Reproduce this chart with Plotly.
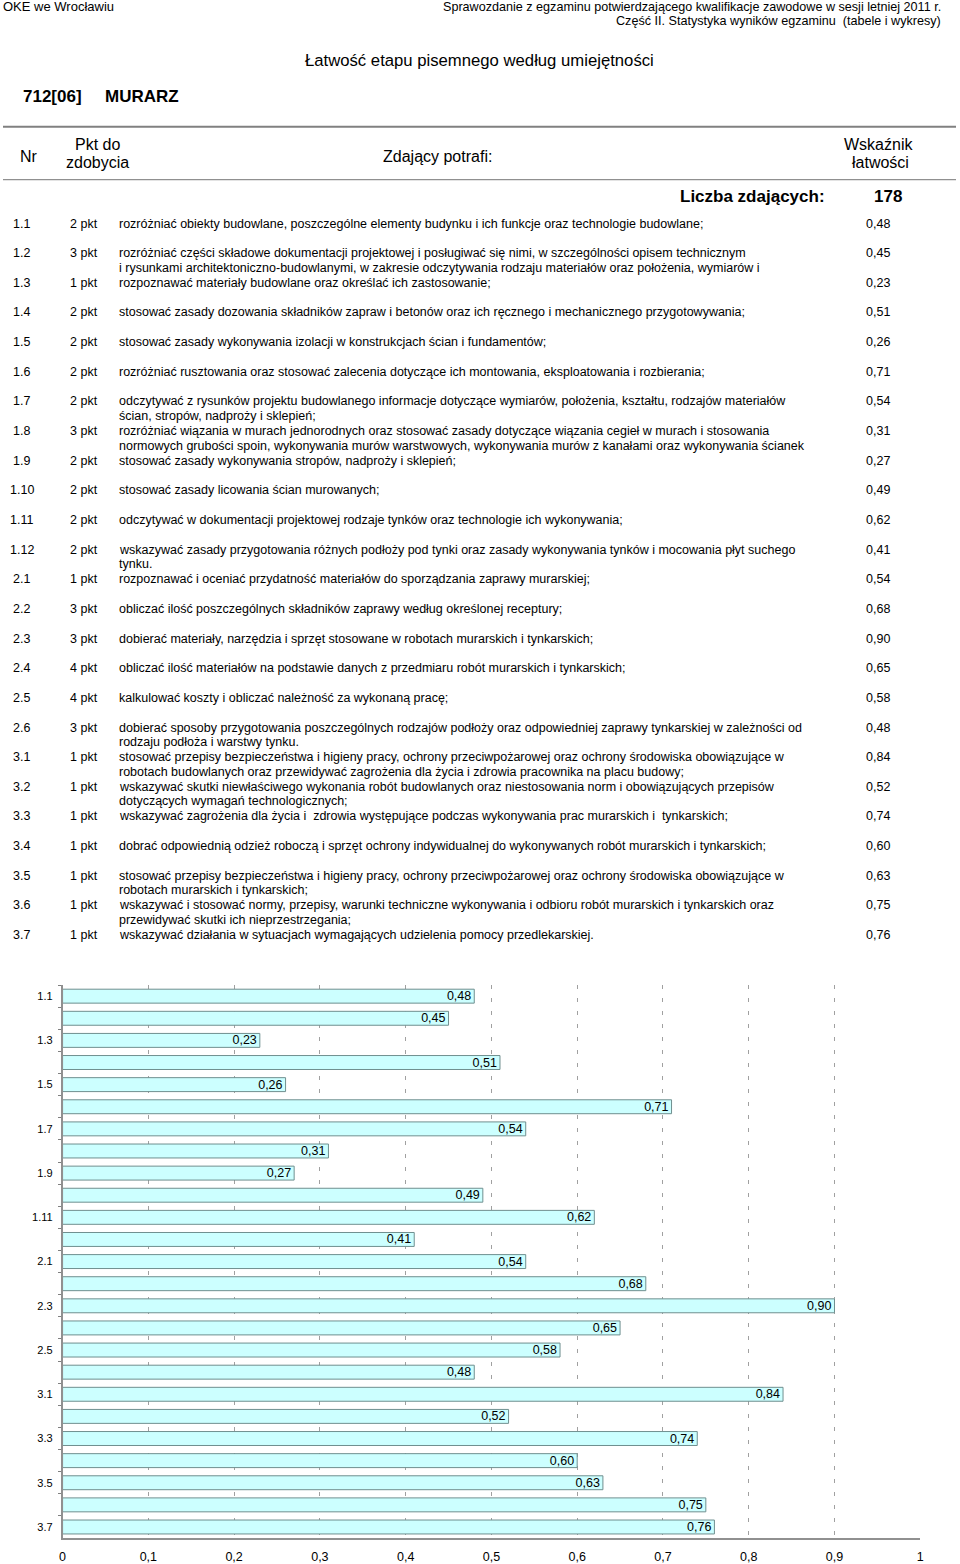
import plotly.graph_objects as go

W, H = 960, 1564

nr = ["1.1", "1.2", "1.3", "1.4", "1.5", "1.6", "1.7", "1.8", "1.9", "1.10", "1.11", "1.12",
      "2.1", "2.2", "2.3", "2.4", "2.5", "2.6",
      "3.1", "3.2", "3.3", "3.4", "3.5", "3.6", "3.7"]
pkt = [2, 3, 1, 2, 2, 2, 2, 3, 2, 2, 2, 2,
       1, 3, 3, 4, 4, 3,
       1, 1, 1, 1, 1, 1, 1]
latwosc = [0.48, 0.45, 0.23, 0.51, 0.26, 0.71, 0.54, 0.31, 0.27, 0.49, 0.62, 0.41,
           0.54, 0.68, 0.90, 0.65, 0.58, 0.48,
           0.84, 0.52, 0.74, 0.60, 0.63, 0.75, 0.76]
opis = [
    ["rozróżniać obiekty budowlane, poszczególne elementy budynku i ich funkcje oraz technologie budowlane;"],
    ["rozróżniać części składowe dokumentacji projektowej i posługiwać się nimi, w szczególności opisem technicznym",
     "i rysunkami architektoniczno-budowlanymi, w zakresie odczytywania rodzaju materiałów oraz położenia, wymiarów i"],
    ["rozpoznawać materiały budowlane oraz określać ich zastosowanie;"],
    ["stosować zasady dozowania składników zapraw i betonów oraz ich ręcznego i mechanicznego przygotowywania;"],
    ["stosować zasady wykonywania izolacji w konstrukcjach ścian i fundamentów;"],
    ["rozróżniać rusztowania oraz stosować zalecenia dotyczące ich montowania, eksploatowania i rozbierania;"],
    ["odczytywać z rysunków projektu budowlanego informacje dotyczące wymiarów, położenia, kształtu, rodzajów materiałów",
     "ścian, stropów, nadproży i sklepień;"],
    ["rozróżniać wiązania w murach jednorodnych oraz stosować zasady dotyczące wiązania cegieł w murach i stosowania",
     "normowych grubości spoin, wykonywania murów warstwowych, wykonywania murów z kanałami oraz wykonywania ścianek"],
    ["stosować zasady wykonywania stropów, nadproży i sklepień;"],
    ["stosować zasady licowania ścian murowanych;"],
    ["odczytywać w dokumentacji projektowej rodzaje tynków oraz technologie ich wykonywania;"],
    ["wskazywać zasady przygotowania różnych podłoży pod tynki oraz zasady wykonywania tynków i mocowania płyt suchego",
     "tynku."],
    ["rozpoznawać i oceniać przydatność materiałów do sporządzania zaprawy murarskiej;"],
    ["obliczać ilość poszczególnych składników zaprawy według określonej receptury;"],
    ["dobierać materiały, narzędzia i sprzęt stosowane w robotach murarskich i tynkarskich;"],
    ["obliczać ilość materiałów na podstawie danych z przedmiaru robót murarskich i tynkarskich;"],
    ["kalkulować koszty i obliczać należność za wykonaną pracę;"],
    ["dobierać sposoby przygotowania poszczególnych rodzajów podłoży oraz odpowiedniej zaprawy tynkarskiej w zależności od",
     "rodzaju podłoża i warstwy tynku."],
    ["stosować przepisy bezpieczeństwa i higieny pracy, ochrony przeciwpożarowej oraz ochrony środowiska obowiązujące w",
     "robotach budowlanych oraz przewidywać zagrożenia dla życia i zdrowia pracownika na placu budowy;"],
    ["wskazywać skutki niewłaściwego wykonania robót budowlanych oraz niestosowania norm i obowiązujących przepisów",
     "dotyczących wymagań technologicznych;"],
    ["wskazywać zagrożenia dla życia i  zdrowia występujące podczas wykonywania prac murarskich i  tynkarskich;"],
    ["dobrać odpowiednią odzież roboczą i sprzęt ochrony indywidualnej do wykonywanych robót murarskich i tynkarskich;"],
    ["stosować przepisy bezpieczeństwa i higieny pracy, ochrony przeciwpożarowej oraz ochrony środowiska obowiązujące w",
     "robotach murarskich i tynkarskich;"],
    ["wskazywać i stosować normy, przepisy, warunki techniczne wykonywania i odbioru robót murarskich i tynkarskich oraz",
     "przewidywać skutki ich nieprzestrzegania;"],
    ["wskazywać działania w sytuacjach wymagających udzielenia pomocy przedlekarskiej."],
]
x_ticks = [0, 0.1, 0.2, 0.3, 0.4, 0.5, 0.6, 0.7, 0.8, 0.9, 1]
liczba_zdajacych = 178

FONT = "Liberation Sans"


def fmt(v):
    return f"{v:.2f}".replace(".", ",")


def tick_fmt(t):
    return str(int(t)) if t in (0, 1) else f"{t:.1f}".replace(".", ",")


# piksele strony -> paper
def px(x):
    return x / W


def py(y):
    return 1 - y / H


annotations = []


def ann(x, y, text, size=12.5, anchor="left", bold=False):
    if bold:
        text = "<b>" + text + "</b>"
    annotations.append(dict(
        x=px(x), y=py(y), xref="paper", yref="paper", text=text, showarrow=False,
        xanchor=anchor, yanchor="middle", borderpad=0,
        font=dict(family=FONT, size=size, color="black"),
    ))


# naglowek strony
ann(-1, 7, "OKE we Wrocławiu", 13)
ann(946, 7, "Sprawozdanie z egzaminu potwierdzającego kwalifikacje zawodowe w sesji letniej 2011 r.", 12.6, "right")
ann(946, 21, "Część II. Statystyka wyników egzaminu  (tabele i wykresy)", 12.6, "right")
ann(480, 61, "Łatwość etapu pisemnego według umiejętności", 16.7, "center")
ann(19, 97, "712[06]", 17, bold=True)
ann(102, 97, "MURARZ", 17, bold=True)

# naglowek tabeli
ann(16, 157, "Nr", 16)
ann(95, 145, "Pkt do", 16, "center")
ann(95, 163, "zdobycia", 16, "center")
ann(438, 157, "Zdający potrafi:", 16, "center")
ann(882, 145, "Wskaźnik", 16, "center")
ann(884, 163, "łatwości", 16, "center")
ann(829, 197, "Liczba zdających:", 17, "right", bold=True)
ann(891, 197, str(liczba_zdajacych), 17, "center", bold=True)

# wiersze tabeli
for i, (n, p, lines, v) in enumerate(zip(nr, pkt, opis, latwosc)):
    y = 224 + i * 29.7
    ann(19, y, n, 12.5, "center")
    ann(66, y, f"{p} pkt", 12.5)
    for j, line in enumerate(lines):
        ann(116, y + j * 14.6, line, 12.5)
    ann(881, y, fmt(v), 12.5, "center")

fig = go.Figure(go.Bar(
    x=latwosc, y=nr, orientation="h",
    marker=dict(color="#CCFFFF", line=dict(color="#6F8F8F", width=1)),
    text=[fmt(v) for v in latwosc], textposition="inside", insidetextanchor="end",
    constraintext="none",
    textfont=dict(family=FONT, size=12.5, color="black"),
))

fig.update_layout(
    width=W, height=H, autosize=False,
    margin=dict(l=0, r=0, t=0, b=0),
    paper_bgcolor="white", plot_bgcolor="white",
    showlegend=False, bargap=0.37,
    annotations=annotations,
    shapes=[
        dict(type="line", xref="paper", yref="paper", x0=0, x1=1, y0=py(127), y1=py(127),
             line=dict(color="#808080", width=2)),
        dict(type="line", xref="paper", yref="paper", x0=0, x1=1, y0=py(180), y1=py(180),
             line=dict(color="#909090", width=1.2)),
    ],
    xaxis=dict(
        domain=[px(60), px(924)], range=[0, 1], anchor="y",
        tickvals=x_ticks, ticktext=[tick_fmt(t) for t in x_ticks],
        tickfont=dict(family=FONT, size=12.5, color="black"),
        showgrid=True, gridcolor="#A0A0A0", griddash="4px,9px", gridwidth=1,
        showline=True, linecolor="#909090", linewidth=2, zeroline=False,
        ticks="", ticklabelstandoff=6, fixedrange=True,
    ),
    yaxis=dict(
        domain=[py(1541), py(987)], autorange="reversed",
        tickvals=nr, ticktext=[n if i % 2 == 0 else "" for i, n in enumerate(nr)],
        tickson="boundaries", ticks="outside", ticklen=3, tickcolor="#808080",
        tickfont=dict(family=FONT, size=11, color="black"),
        ticklabelstandoff=6,
        showline=True, linecolor="#909090", linewidth=1.5, showgrid=False,
        fixedrange=True,
    ),
)

# bez domyslnego marginesu strony, zeby figura lezala dokladnie w oknie
fig.write_html("out.html", config={"displayModeBar": False},
               post_script="document.body.style.margin='0';")
